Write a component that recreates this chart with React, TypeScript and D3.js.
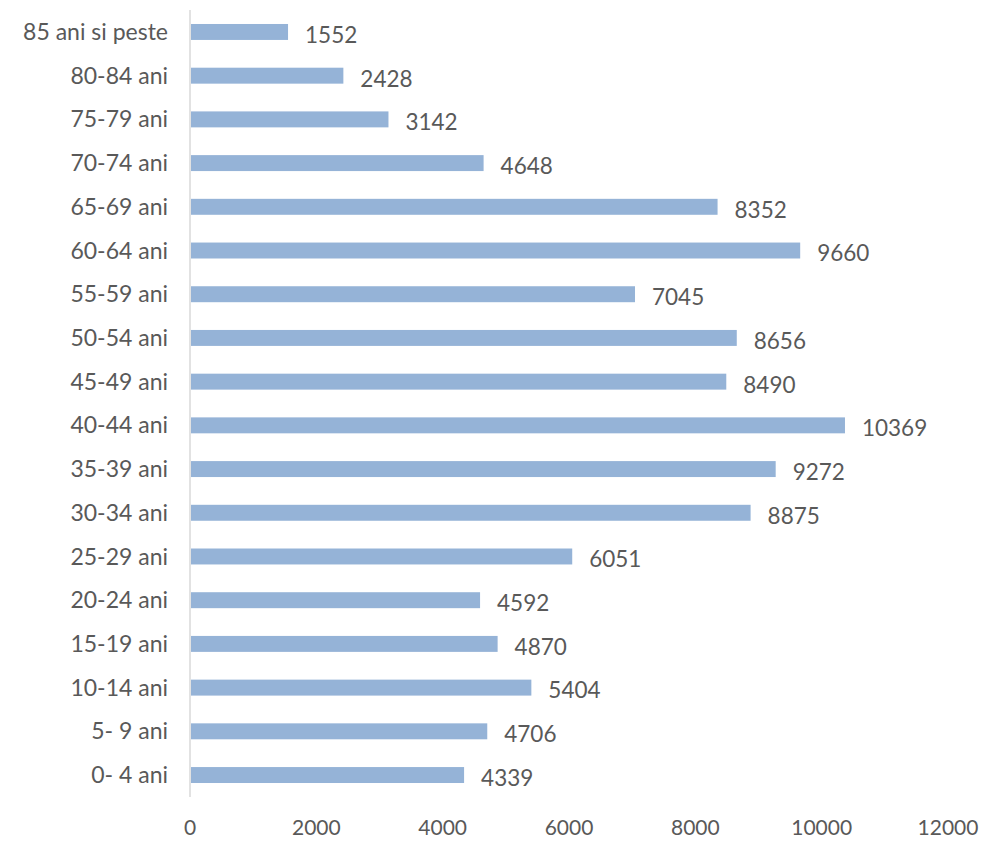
import React from "react";
import * as d3 from "d3";

const categories = [
  "85 ani si peste", "80-84 ani", "75-79 ani", "70-74 ani", "65-69 ani", "60-64 ani",
  "55-59 ani", "50-54 ani", "45-49 ani", "40-44 ani", "35-39 ani", "30-34 ani",
  "25-29 ani", "20-24 ani", "15-19 ani", "10-14 ani", "5- 9 ani", "0- 4 ani",
];
const values = [1552, 2428, 3142, 4648, 8352, 9660, 7045, 8656, 8490, 10369, 9272, 8875, 6051, 4592, 4870, 5404, 4706, 4339];
const xTicks = [0, 2000, 4000, 6000, 8000, 10000, 12000];

const W = 982, H = 841;
const FONT = "Lato, 'Open Sans', sans-serif";
const TXT = "#595959";

export default function App() {
  const x = d3.scaleLinear().domain([0, 12000]).range([190, 948]);
  const y = d3.scaleBand<string>().domain(categories).range([10, 797]).paddingInner(0.635).paddingOuter(0.32);
  const bw = y.bandwidth();
  return (
    <svg width={W} height={H} style={{ position: "absolute", left: 0, top: 0, background: "#fff" }}>
      {categories.map((c, i) => {
        const yy = y(c)!;
        return (
          <g key={c}>
            <rect x={x(0) + 1} y={yy} width={x(values[i]) - x(0) - 1} height={bw} fill="#95B3D7" />
            <text x={168} y={yy + bw / 2} dy="0.35em" textAnchor="end" fontFamily={FONT} fontSize={23} fill={TXT}>{c}</text>
            <text x={x(values[i]) + 17} y={yy + bw / 2 + 3} dy="0.35em" textAnchor="start" fontFamily={FONT} fontSize={22.5} fill={TXT}>{values[i]}</text>
          </g>
        );
      })}
      <line x1={x(0)} x2={x(0)} y1={10} y2={797} stroke="#D9D9D9" strokeWidth={1.5} />
      {xTicks.map((t) => (
        <text key={t} x={x(t)} y={828} dy="0.35em" textAnchor="middle" fontFamily={FONT} fontSize={21} fill={TXT}>{t}</text>
      ))}
    </svg>
  );
}
